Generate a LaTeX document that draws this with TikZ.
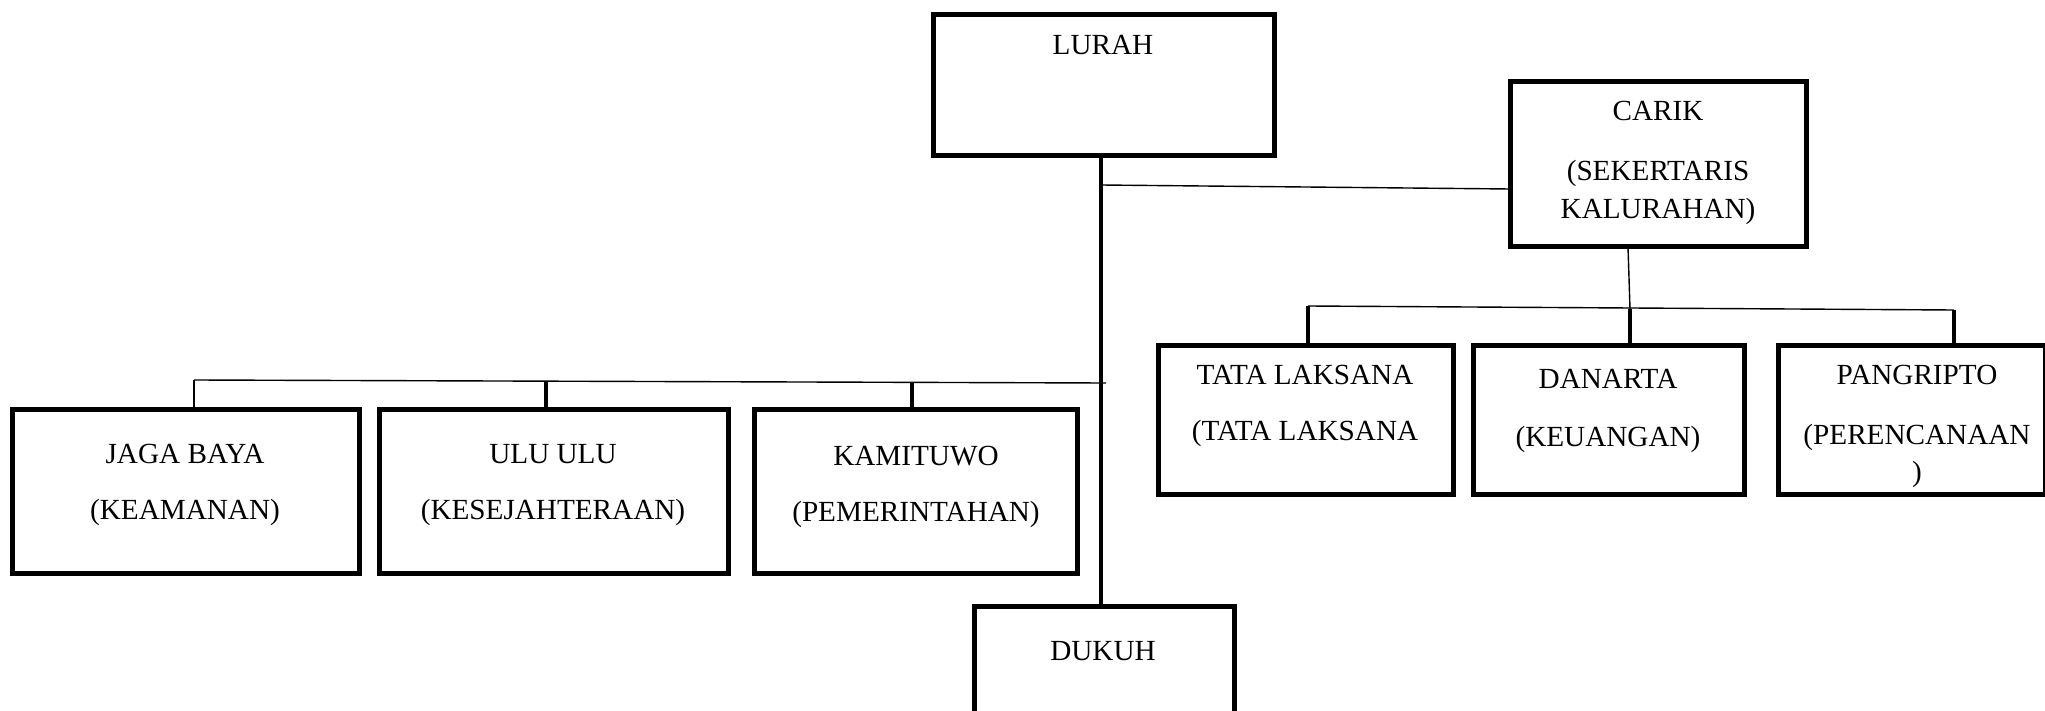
\documentclass[tikz,border=0pt]{standalone}
\usepackage{fontspec}
\setmainfont{Liberation Serif}
\begin{document}
\begin{tikzpicture}[x=0.5pt,y=-0.5pt,
  box/.style={draw=black, line width=2.5pt, fill=none, inner sep=0pt},
  lbl/.style={anchor=base, inner sep=0pt, font=\fontsize{14.6}{17}\selectfont},
  thinline/.style={line width=0.7pt},
  thickline/.style={line width=2.2pt}]
\clip (0,0) rectangle (2045,711);
% boxes
\node[box, minimum width=170.5pt, minimum height=70.5pt] (lurah) at (1103.5,85.5) {};
\node[box, minimum width=148pt, minimum height=82.5pt] (carik) at (1658,164.5) {};
\node[box, minimum width=147.5pt, minimum height=74.5pt] (tata) at (1305.5,419.5) {};
\node[box, minimum width=135.5pt, minimum height=74.5pt] (danarta) at (1608.5,419.5) {};
\node[box, minimum width=133.5pt, minimum height=74.5pt] (pangripto) at (1911.5,419.5) {};
\node[box, minimum width=173.5pt, minimum height=82pt] (jaga) at (185.5,491) {};
\node[box, minimum width=174.5pt, minimum height=82pt] (ulu) at (553.5,491) {};
\node[box, minimum width=161.5pt, minimum height=82pt] (kami) at (915.5,491) {};
\node[box, minimum width=130pt, minimum height=77pt] (dukuh) at (1104,683) {};
% texts
\node[lbl] (t-lurah) at (1103,55) {LURAH};
\node[lbl] (t-carik1) at (1658,121) {CARIK};
\node[lbl] (t-carik2) at (1658,181) {(SEKERTARIS};
\node[lbl] (t-carik3) at (1658,219) {KALURAHAN)};
\node[lbl] (t-tata1) at (1305,384) {TATA LAKSANA};
\node[lbl] (t-tata2) at (1305,440) {(TATA LAKSANA};
\node[lbl] (t-dan1) at (1608,388) {DANARTA};
\node[lbl] (t-dan2) at (1608,446) {(KEUANGAN)};
\node[lbl] (t-pan1) at (1917,384) {PANGRIPTO};
\node[lbl] (t-pan2) at (1917,444) {(PERENCANAAN};
\node[lbl] (t-pan3) at (1917,481) {)};
\node[lbl] (t-jaga1) at (185,463) {JAGA BAYA};
\node[lbl] (t-jaga2) at (185,519) {(KEAMANAN)};
\node[lbl] (t-ulu1) at (553,463) {ULU ULU};
\node[lbl] (t-ulu2) at (553,519) {(KESEJAHTERAAN)};
\node[lbl] (t-kami1) at (916,465) {KAMITUWO};
\node[lbl] (t-kami2) at (916,521) {(PEMERINTAHAN)};
\node[lbl] (t-dukuh) at (1103,660) {DUKUH};
% coordinates
\coordinate (sp) at (1101,185);
\coordinate (ck) at (1510,189);
\coordinate (cb) at (1628,247);
\coordinate (rb1) at (1308,306);
\coordinate (rb2) at (1630,309);
\coordinate (rb3) at (1954,310);
\coordinate (lb1) at (194,380);
\coordinate (lb2) at (546,381);
\coordinate (lb3) at (912,382);
\coordinate (lbE) at (1106,383);
% connectors
\draw[thickline] (lurah.south -| sp) -- (dukuh.north -| sp);
\draw[thinline] (sp) -- (ck);
\draw[thinline] (cb) -- (rb2);
\draw[thinline] (rb1) -- (rb3);
\draw[thickline] (rb1) -- (rb1 |- tata.north);
\draw[thickline] (rb2) -- (rb2 |- danarta.north);
\draw[thickline] (rb3) -- (rb3 |- pangripto.north);
\draw[thinline] (lb1) -- (lbE);
\draw[thinline] (lb1) -- (lb1 |- jaga.north);
\draw[thickline] (lb2) -- (lb2 |- ulu.north);
\draw[thickline] (lb3) -- ([yshift=-2pt]lb3 |- kami.north);
\end{tikzpicture}
\end{document}
